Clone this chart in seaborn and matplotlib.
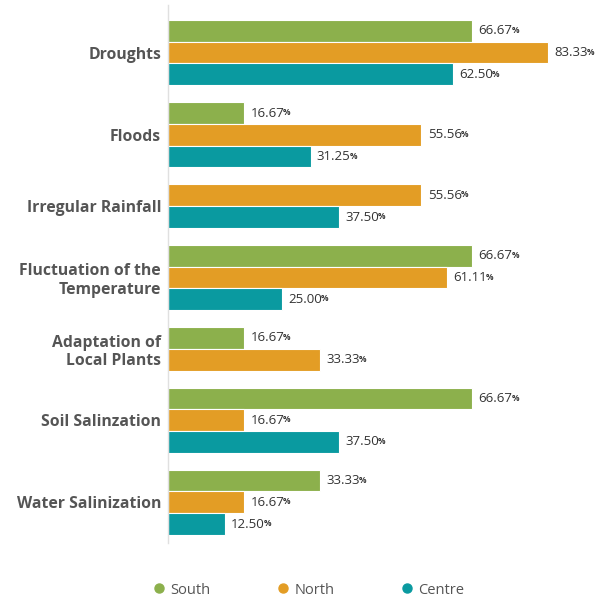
import numpy as np
import pandas as pd
import seaborn as sns
import matplotlib.pyplot as plt
from matplotlib.lines import Line2D

# data
categories = ["Droughts", "Floods", "Irregular Rainfall", "Fluctuation of the\nTemperature",
              "Adaptation of\nLocal Plants", "Soil Salinzation", "Water Salinization"]
regions = ["South", "North", "Centre"]
south = [66.67, 16.67, None, 66.67, 16.67, 66.67, 33.33]
north = [83.33, 55.56, 55.56, 61.11, 33.33, 16.67, 16.67]
centre = [62.50, 31.25, 37.50, 25.00, None, 37.50, 12.50]

colors = {"South": "#8cb04c", "North": "#e39d25", "Centre": "#0a9aa0"}

sns.set_theme(style="white")
plt.rcParams['font.family'] = ['Open Sans', 'DejaVu Sans']

# long table; missing bars are dropped and the remaining ones close up
rows = []
pos = 0.0
gap = 0.78
centers = []
for i, cat in enumerate(categories):
    start = pos
    for reg, vals in zip(regions, [south, north, centre]):
        v = vals[i]
        if v is None:
            continue
        rows.append({"cat": cat, "region": reg, "value": v, "y": pos})
        pos += 1
    centers.append((start + pos - 1) / 2)
    pos += gap
df = pd.DataFrame(rows)
last = df["y"].max()

fig = plt.figure(figsize=(5.99, 5.98), dpi=100)
ax = fig.add_axes([168 / 599, 1 - 543 / 598, (590 - 168) / 599, (543 - 5) / 598])

sns.barplot(data=df, x="value", y="y", hue="region", hue_order=regions, palette=colors,
            orient="h", native_scale=True, dodge=False, width=1.0, saturation=1,
            edgecolor="white", linewidth=0.8, legend=False, ax=ax)

ax.set_xlim(0, 92.5)
ax.set_ylim(last + 0.5 + 0.37, -0.5 - 0.69)
ax.set_yticks(centers)
ax.set_yticklabels(categories, fontsize=11.3, fontweight="bold", color="#555555",
                   ha="right", linespacing=1.2)
ax.tick_params(axis="y", length=0, pad=5)
ax.set_xticks([])
ax.set_xlabel("")
ax.set_ylabel("")
for s in ["top", "right", "bottom"]:
    ax.spines[s].set_visible(False)
ax.spines["left"].set_color("#e0e0e0")
ax.spines["left"].set_linewidth(1)

# value labels with a small percent sign
for _, r in df.iterrows():
    t = ax.annotate(f"{r['value']:.2f}", xy=(r["value"], r["y"]), xytext=(4.5, 0),
                    textcoords="offset points", va="center", ha="left",
                    fontsize=9.5, color="#333333")
    ax.annotate("%", xy=(1, 0.18), xycoords=t, xytext=(-0.8, 0), textcoords="offset points",
                va="bottom", ha="left", fontsize=6, fontweight="bold", color="#333333")

handles = [Line2D([0], [0], marker="o", linestyle="", markersize=6.5,
                  markerfacecolor=colors[r], markeredgecolor=colors[r], label=r) for r in regions]
fig.legend(handles=handles, loc="center", bbox_to_anchor=(0.508, 1 - 590 / 598), ncol=3,
           frameon=False, fontsize=10.5, handletextpad=-0.2, columnspacing=3.95,
           labelcolor="#555555")

fig.savefig("out.png", dpi=100)
